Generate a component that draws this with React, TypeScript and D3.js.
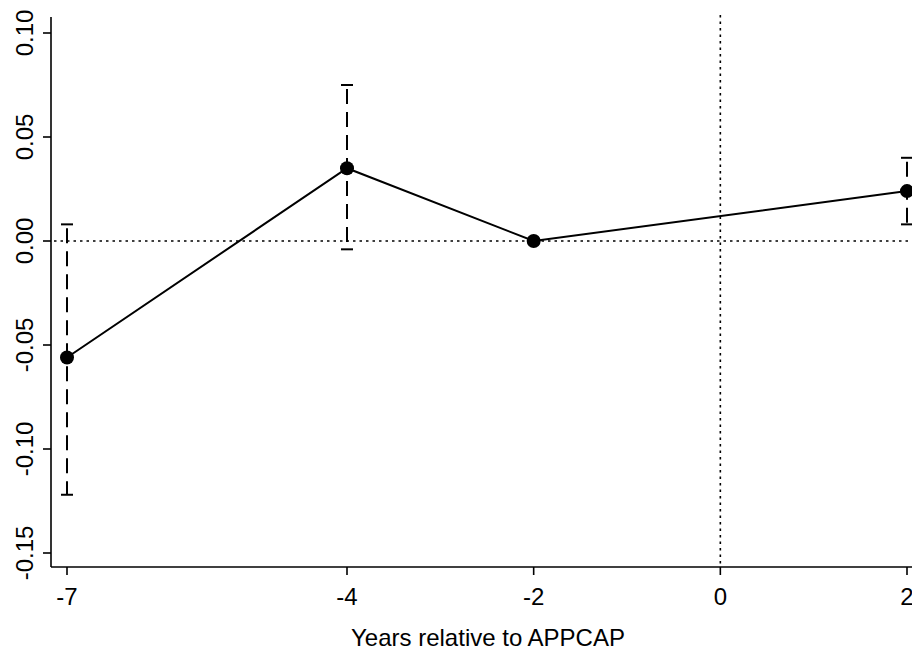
import React from "react";
import * as d3 from "d3";

const years = [-7, -4, -2, 2];
const estimates = [-0.056, 0.035, 0.0, 0.024];
const upper = [0.008, 0.075, null, 0.040];
const lower = [-0.122, -0.004, null, 0.008];
const xTicks = [-7, -4, -2, 0, 2];
const yTicks = [0.1, 0.05, 0.0, -0.05, -0.1, -0.15];
const yTickLabels = ["0.10", "0.05", "0.00", "-0.05", "-0.10", "-0.15"];
const xTitle = "Years relative to APPCAP";

const W = 912;
const H = 650;
const axisX = 51;
const axisY = 567;
const topY = 17;

export default function App() {
  const x = d3.scaleLinear().domain([-7, 2]).range([67, 907]);
  const y = d3.scaleLinear().domain([0.1, -0.15]).range([33, 553]);
  const font = "'Liberation Sans', Arial, Helvetica, sans-serif";
  const line = d3
    .line<number>()
    .x((_, i) => x(years[i]))
    .y((d) => y(d));

  return (
    <svg
      width={W}
      height={H}
      style={{ position: "absolute", left: 0, top: 0, background: "#fff" }}
    >
      <rect x={0} y={0} width={W} height={H} fill="#fff" />
      {/* reference lines */}
      <line
        x1={axisX + 3}
        x2={W}
        y1={y(0)}
        y2={y(0)}
        stroke="#000"
        strokeWidth={1.6}
        strokeDasharray="2.5,4"
      />
      <line
        x1={x(0)}
        x2={x(0)}
        y1={15}
        y2={axisY}
        stroke="#000"
        strokeWidth={1.6}
        strokeDasharray="2.5,4"
      />
      {/* axes */}
      <line x1={axisX} x2={axisX} y1={topY} y2={axisY} stroke="#000" strokeWidth={1.6} />
      <line x1={axisX} x2={W} y1={axisY} y2={axisY} stroke="#000" strokeWidth={1.6} />
      {yTicks.map((t, i) => (
        <g key={"y" + i}>
          <line x1={axisX - 8} x2={axisX} y1={y(t)} y2={y(t)} stroke="#000" strokeWidth={1.6} />
          <text
            transform={`translate(${33},${y(t)}) rotate(-90)`}
            textAnchor="middle"
            fontFamily={font}
            fontSize={24}
            fill="#000"
          >
            {yTickLabels[i]}
          </text>
        </g>
      ))}
      {xTicks.map((t, i) => (
        <g key={"x" + i}>
          <line x1={x(t)} x2={x(t)} y1={axisY} y2={axisY + 8} stroke="#000" strokeWidth={1.6} />
          <text
            x={x(t)}
            y={605}
            textAnchor="middle"
            fontFamily={font}
            fontSize={24}
            fill="#000"
          >
            {t}
          </text>
        </g>
      ))}
      <text
        x={488}
        y={646}
        textAnchor="middle"
        fontFamily={font}
        fontSize={24}
        fill="#000"
      >
        {xTitle}
      </text>
      {/* error bars */}
      {years.map((yr, i) =>
        upper[i] == null || lower[i] == null ? null : (
          <g key={"e" + i}>
            <line
              x1={x(yr)}
              x2={x(yr)}
              y1={y(upper[i] as number)}
              y2={y(lower[i] as number)}
              stroke="#000"
              strokeWidth={2}
              strokeDasharray="15,8"
              strokeDashoffset={-4}
            />
            <line x1={x(yr) - 6} x2={x(yr) + 6} y1={y(upper[i] as number)} y2={y(upper[i] as number)} stroke="#000" strokeWidth={2} />
            <line x1={x(yr) - 6} x2={x(yr) + 6} y1={y(lower[i] as number)} y2={y(lower[i] as number)} stroke="#000" strokeWidth={2} />
          </g>
        )
      )}
      {/* estimate line */}
      <path d={line(estimates) || ""} fill="none" stroke="#000" strokeWidth={2} />
      {years.map((yr, i) => (
        <circle key={"p" + i} cx={x(yr)} cy={y(estimates[i])} r={7} fill="#000" />
      ))}
    </svg>
  );
}
